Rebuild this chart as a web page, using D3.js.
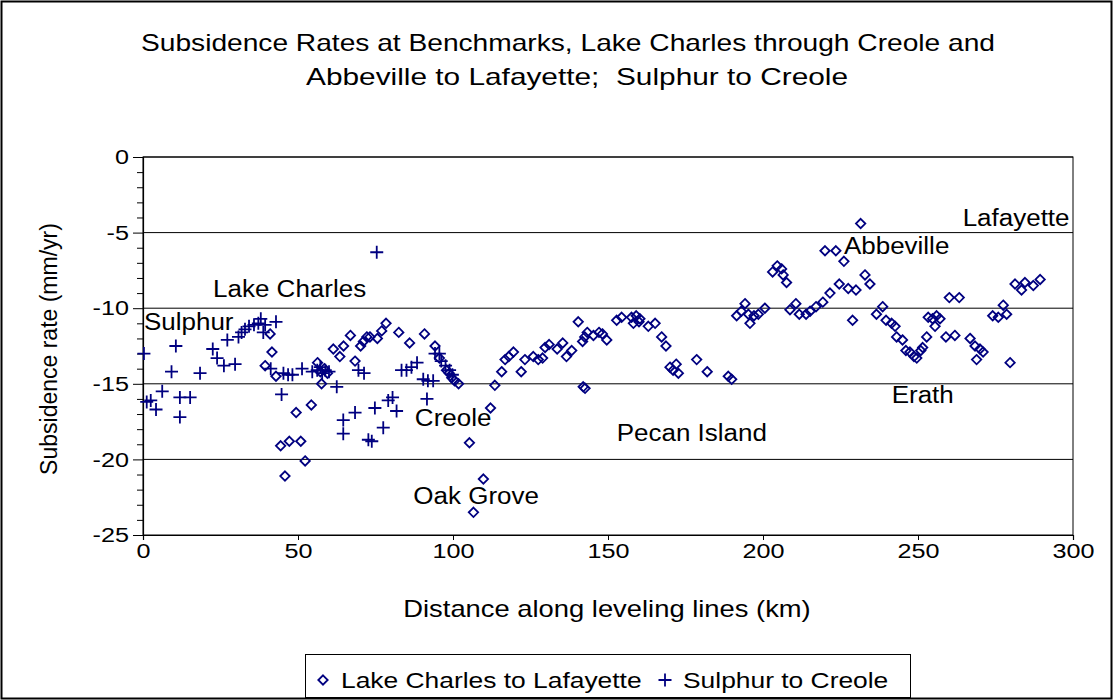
<!DOCTYPE html>
<html>
<head>
<meta charset="utf-8">
<script src="https://cdn.jsdelivr.net/npm/d3@7"></script>
<style>
  html, body { margin: 0; padding: 0; background: #fff; }
  svg { display: block; font-family: "Liberation Sans", Arial, sans-serif; }
</style>
</head>
<body>
<svg id="chart" width="1113" height="700"></svg>
<script>
// ---- data ----
const titleLines = ["Subsidence Rates at Benchmarks, Lake Charles through Creole and",
                    "Abbeville to Lafayette;\u00a0 Sulphur to Creole"];
const xTicks = [0, 50, 100, 150, 200, 250, 300];
const yTicks = [0, -5, -10, -15, -20, -25];
const seriesNames = ["Lake Charles to Lafayette", "Sulphur to Creole"];

const lcKm = [39.4,41,41.6,42.9,44.4,45.8,47.2,49.4,50.9,52.3,54.3,56.3,57.6,57.2,58.5,59.5,61.4,63.5,64.7,66.9,68.4,70.2,71.1,72.2,73.2,75.6,77,78.4,82.5,86,90.8,94.2,95.6,97.9,98.8,99.6,100.5,101.8,105.3,106.6,109.8,112.1,113.5,115.7,116.8,118,119.5,122,123.2,125.9,127.5,128.9,129.7,131,133.6,135.4,136.6,138.3,140.4,141.8,142.5,143.3,142,142.6,145.3,147.1,148.2,149.6,152.8,154.4,157.6,158.2,159.1,160,160.3,163,165.2,167.3,168.7,170,171,172,172.7,178.6,182,188.8,189.9,191.5,193,194.2,195.3,195.8,197.1,198.5,200.6,203.1,204.6,206,206.5,207.6,208.7,210.6,211.7,213.9,215.2,217.1,219.3,220,221.6,223.5,224.6,226.1,227.5,228.9,230,231.5,232.9,234.5,236.6,238.6,239.7,241.5,242.6,243.1,245,246.1,247.4,248.7,249.6,250.9,251.5,252.8,253.3,254.7,255.5,256,257.1,259,260.1,261.9,263.3,266.8,268.4,268.9,270,271,274.1,275.9,277.5,278.6,279.7,281.3,283.4,284.5,287.2,289.4];
const lcRate = [-13.8,-11.7,-12.9,-14.5,-19.1,-21.1,-18.8,-16.9,-18.8,-20.1,-16.4,-13.6,-15.0,-14.2,-14.0,-14.3,-12.7,-13.2,-12.5,-11.8,-13.5,-12.5,-12.2,-11.9,-11.9,-12.0,-11.5,-11.0,-11.6,-12.3,-11.7,-12.5,-13.3,-14.1,-14.3,-14.6,-14.8,-15.0,-18.9,-23.5,-21.3,-16.6,-15.1,-14.2,-13.4,-13.2,-12.9,-14.2,-13.4,-13.2,-13.4,-13.3,-12.6,-12.4,-12.7,-12.3,-13.2,-12.8,-10.9,-12.2,-11.9,-11.6,-15.2,-15.3,-11.8,-11.6,-11.7,-12.1,-10.8,-10.6,-10.6,-11.0,-10.5,-10.9,-10.7,-11.2,-11.0,-11.9,-12.5,-13.9,-14.1,-13.7,-14.3,-13.4,-14.2,-14.5,-14.7,-10.5,-10.2,-9.7,-10.4,-11.0,-10.5,-10.4,-10.0,-7.6,-7.2,-7.4,-7.8,-8.3,-10.1,-9.7,-10.4,-10.4,-10.2,-9.9,-9.6,-6.2,-9.0,-6.2,-8.4,-6.9,-8.7,-10.8,-8.8,-4.4,-7.8,-8.4,-10.4,-9.9,-10.8,-11.0,-11.2,-11.9,-12.1,-12.8,-12.9,-13.2,-13.3,-12.8,-12.6,-11.9,-10.6,-10.7,-11.2,-10.5,-10.7,-11.9,-9.3,-11.8,-9.3,-12.0,-12.5,-13.4,-12.7,-12.9,-10.5,-10.6,-9.8,-10.4,-13.6,-8.4,-8.8,-8.3,-8.5,-8.1];

const spKm = [0.3,1.2,2.5,4.2,6.2,9.2,10.6,11.9,11.9,15.2,18.4,22.5,23.9,26.1,27.2,29.7,30.8,31.8,32.9,34.2,35.8,37.2,38.0,38.8,39.4,41.2,42.9,44.7,45.3,46.8,48.2,51.3,54.6,56.2,57.2,57.8,58.8,60.0,62.5,64.6,64.6,68.4,69.5,71.3,72.7,73.8,74.8,75.4,77.5,79.1,80.5,81.8,83.4,85.0,86.6,88.4,90.4,91.6,91.9,93.6,94.2,95.6,96.2,97.6,98.9,99.8];
const spRate = [-13.0,-16.2,-16.1,-16.7,-15.5,-14.2,-12.5,-15.9,-17.2,-15.9,-14.3,-12.7,-13.3,-13.8,-12.1,-13.7,-11.9,-11.6,-11.4,-11.2,-11.1,-11.0,-10.7,-11.6,-11.1,-14.0,-10.9,-15.7,-14.3,-14.4,-14.4,-14.0,-14.2,-14.1,-13.9,-14.3,-14.1,-14.2,-15.2,-17.4,-18.3,-16.9,-14.1,-14.3,-18.7,-18.8,-16.6,-6.3,-17.9,-16.1,-15.9,-16.8,-14.1,-14.1,-13.9,-13.6,-14.7,-16.0,-14.8,-14.8,-13.0,-13.0,-13.5,-13.8,-14.1,-14.4];

const placeNames = ["Lake Charles", "Sulphur", "Creole", "Oak Grove", "Pecan Island", "Erath", "Abbeville", "Lafayette"];
const placeKm    = [22.6, 0.3, 87.7, 87.2, 152.8, 241.5, 226.1, 264.4];
const placeRate  = [-9.25, -11.45, -17.8, -22.95, -18.75, -16.3, -6.42, -4.56];

// ---- drawing ----
const navy = "#000080";
const svg = d3.select("#chart");
const W = 1113, H = 700;
const x = d3.scaleLinear().domain([0, 300]).range([143, 1073]);
const y = d3.scaleLinear().domain([-25, 0]).range([535, 157]);

svg.append("rect").attr("x", 0).attr("y", 0).attr("width", W).attr("height", H).attr("fill", "#fff");
svg.append("rect").attr("x", 1.5).attr("y", 1.5).attr("width", W - 3).attr("height", H - 3)
  .attr("fill", "none").attr("stroke", "#000").attr("stroke-width", 2);

// title
svg.selectAll("text.title").data(titleLines).join("text")
  .attr("class", "title")
  .attr("x", (d, i) => i === 0 ? 141 : 306)
  .attr("y", (d, i) => i === 0 ? 51 : 85)
  .attr("font-size", 24)
  .attr("textLength", (d, i) => i === 0 ? 854 : 542)
  .attr("lengthAdjust", "spacingAndGlyphs")
  .attr("fill", "#000")
  .text(d => d);

// gridlines
svg.append("g").selectAll("line").data(yTicks.filter(v => v !== -25)).join("line")
  .attr("x1", x(0)).attr("x2", x(300))
  .attr("y1", d => y(d)).attr("y2", d => y(d))
  .attr("stroke", "#000").attr("stroke-width", 1);

// plot border
svg.append("rect").attr("x", x(0)).attr("y", y(0)).attr("width", x(300) - x(0)).attr("height", y(-25) - y(0))
  .attr("fill", "none").attr("stroke", "#000").attr("stroke-width", 1);

// y axis minor ticks
const minorVals = d3.range(0, -26, -1).filter(v => v % 5 !== 0);
svg.append("g").attr("transform", `translate(${x(0)},0)`)
  .call(d3.axisLeft(y).tickValues(minorVals).tickSize(6).tickFormat(""))
  .call(g => g.select(".domain").remove())
  .selectAll("line").attr("stroke", "#000");

// y axis major
const yAx = svg.append("g").attr("transform", `translate(${x(0)},0)`)
  .call(d3.axisLeft(y).tickValues(yTicks).tickSize(10).tickFormat(d => String(d)));
yAx.select(".domain").attr("stroke", "#000").attr("stroke-width", 1.2);
yAx.selectAll("line").attr("stroke", "#000");
yAx.selectAll("text")
  .attr("font-family", "'Liberation Sans', Arial, sans-serif")
  .attr("font-size", 21).attr("fill", "#000")
  .attr("x", -14 / 1.2).attr("transform", "scale(1.2,1)");

// x axis
const xAx = svg.append("g").attr("transform", `translate(0,${y(-25)})`)
  .call(d3.axisBottom(x).tickValues(xTicks).tickSize(5).tickFormat(d => String(d)));
xAx.select(".domain").attr("stroke", "#000").attr("stroke-width", 1.2);
xAx.selectAll("line").attr("stroke", "#000");
xAx.selectAll("text")
  .attr("font-family", "'Liberation Sans', Arial, sans-serif")
  .attr("font-size", 21).attr("fill", "#000")
  .attr("y", 8).attr("dy", "0.71em")
  .attr("transform", "scale(1.2,1)");

// axis titles
svg.append("text")
  .attr("transform", `translate(607,617) scale(1.19,1)`)
  .attr("text-anchor", "middle").attr("font-size", 23).attr("fill", "#000")
  .text("Distance along leveling lines (km)");
svg.append("text")
  .attr("transform", `translate(57,349) rotate(-90)`)
  .attr("text-anchor", "middle").attr("font-size", 23).attr("fill", "#000")
  .text("Subsidence rate (mm/yr)");

// place labels
svg.append("g").selectAll("text").data(placeNames).join("text")
  .attr("transform", (d, i) => `translate(${x(placeKm[i])},${y(placeRate[i])}) scale(1.13,1)`)
  .attr("font-size", 23).attr("fill", "#000")
  .text(d => d);

// markers
const diamond = s => `M0,${-s}L${s},0L0,${s}L${-s},0Z`;
const plus = s => `M${-s},0H${s}M0,${-s}V${s}`;

svg.append("g").selectAll("path").data(lcKm).join("path")
  .attr("transform", (d, i) => `translate(${x(d)},${y(lcRate[i])})`)
  .attr("d", diamond(4.7))
  .attr("fill", "none").attr("stroke", navy).attr("stroke-width", 1.8);

svg.append("g").selectAll("path").data(spKm).join("path")
  .attr("transform", (d, i) => `translate(${x(d)},${y(spRate[i])})`)
  .attr("d", plus(6.5))
  .attr("fill", "none").attr("stroke", navy).attr("stroke-width", 1.8);

// legend
const lg = svg.append("g");
lg.append("rect").attr("x", 305.5).attr("y", 654.5).attr("width", 605).attr("height", 43)
  .attr("fill", "#fff").attr("stroke", "#000").attr("stroke-width", 1);
lg.append("path").attr("transform", "translate(323,680)").attr("d", diamond(4.7))
  .attr("fill", "none").attr("stroke", navy).attr("stroke-width", 1.8);
lg.append("path").attr("transform", "translate(665,680)").attr("d", plus(6.5))
  .attr("fill", "none").attr("stroke", navy).attr("stroke-width", 1.8);
lg.selectAll("text").data(seriesNames).join("text")
  .attr("transform", (d, i) => `translate(${i === 0 ? 341 : 683},688) scale(1.2,1)`)
  .attr("font-size", 22).attr("fill", "#000")
  .text(d => d);
</script>
</body>
</html>
